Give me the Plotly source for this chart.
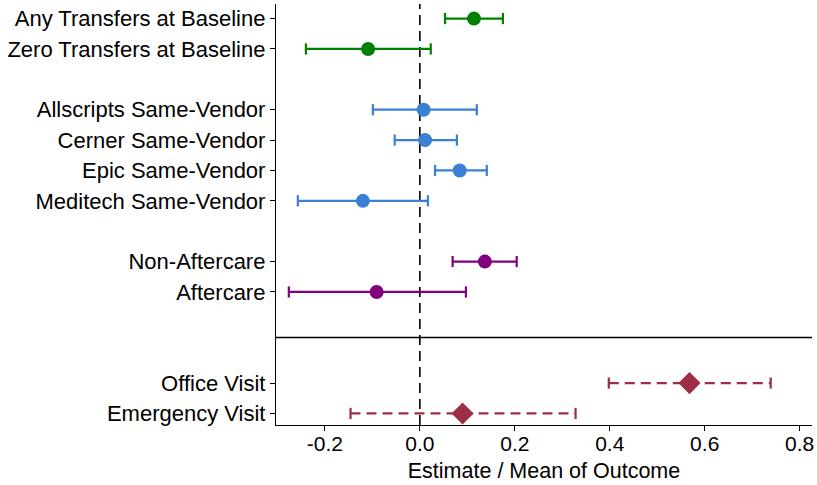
import plotly.graph_objects as go

# ---- data ----
labels = ["Any Transfers at Baseline", "Zero Transfers at Baseline",
          "Allscripts Same-Vendor", "Cerner Same-Vendor", "Epic Same-Vendor", "Meditech Same-Vendor",
          "Non-Aftercare", "Aftercare",
          "Office Visit", "Emergency Visit"]
rows = [0, 1, 3, 4, 5, 6, 8, 9, 12, 13]
estimate = [0.114, -0.109, 0.008, 0.011, 0.084, -0.120, 0.137, -0.091, 0.568, 0.090]
ci_low = [0.053, -0.240, -0.099, -0.053, 0.032, -0.257, 0.069, -0.276, 0.398, -0.146]
ci_high = [0.175, 0.023, 0.120, 0.078, 0.141, 0.017, 0.204, 0.097, 0.739, 0.328]
groups = [0, 0, 1, 1, 1, 1, 2, 2, 3, 3]
group_colors = ["#008000", "#3a80d4", "#800080", "#9e2e45"]
group_symbols = ["circle", "circle", "circle", "diamond"]
group_dash = ["solid", "solid", "solid", "10px,6px"]
separator_row = 10.5
x_ticks = [-0.2, 0.0, 0.2, 0.4, 0.6, 0.8]
x_tick_labels = ["-0.2", "0.0", "0.2", "0.4", "0.6", "0.8"]

fig = go.Figure()

for g in range(4):
    idx = [i for i in range(len(rows)) if groups[i] == g]
    col = group_colors[g]
    lx, ly = [], []
    for i in idx:
        lx += [ci_low[i], ci_high[i], None]
        ly += [rows[i], rows[i], None]
    fig.add_trace(go.Scatter(x=lx, y=ly, mode="lines",
                             line=dict(color=col, width=2.2, dash=group_dash[g]),
                             hoverinfo="skip", showlegend=False))
    cx = [ci_low[i] for i in idx] + [ci_high[i] for i in idx]
    cy = [rows[i] for i in idx] * 2
    fig.add_trace(go.Scatter(x=cx, y=cy, mode="markers",
                             marker=dict(symbol="line-ns-open", size=8, color=col,
                                         line=dict(color=col, width=2.2)),
                             hoverinfo="skip", showlegend=False))
    fig.add_trace(go.Scatter(x=[estimate[i] for i in idx], y=[rows[i] for i in idx],
                             mode="markers",
                             marker=dict(symbol=group_symbols[g],
                                         size=14 if g < 3 else 17, color=col,
                                         line=dict(width=0)),
                             showlegend=False))

fig.add_shape(type="line", xref="x", yref="paper", x0=0, x1=0, y0=0, y1=1,
              line=dict(color="black", width=1.6, dash="10px,6px"), layer="below")
fig.add_shape(type="line", xref="paper", yref="y", x0=0, x1=1,
              y0=separator_row, y1=separator_row,
              line=dict(color="black", width=1.3))

fig.update_layout(
    width=817, height=485,
    margin=dict(l=276, r=5, t=4, b=60),
    plot_bgcolor="white", paper_bgcolor="white",
    font=dict(family="Liberation Sans, Arial, sans-serif", size=22, color="black"),
    xaxis=dict(range=[-0.303, 0.826], tickvals=x_ticks, ticktext=x_tick_labels,
               tickfont=dict(size=21), ticklabelstandoff=-5,
               showline=True, linecolor="black", linewidth=1.3,
               ticks="outside", ticklen=5, tickcolor="black",
               showgrid=False, zeroline=False,
               title=dict(text="Estimate / Mean of Outcome", standoff=8,
                          font=dict(size=21.5))),
    yaxis=dict(range=[13.38, -0.48], tickvals=rows, ticktext=labels,
               showline=True, linecolor="black", linewidth=1.3,
               ticks="outside", ticklen=5, tickcolor="black",
               showgrid=False, zeroline=False),
)

fig.write_html("out.html", config={"displayModeBar": False},
               post_script="document.body.style.margin='0';")
